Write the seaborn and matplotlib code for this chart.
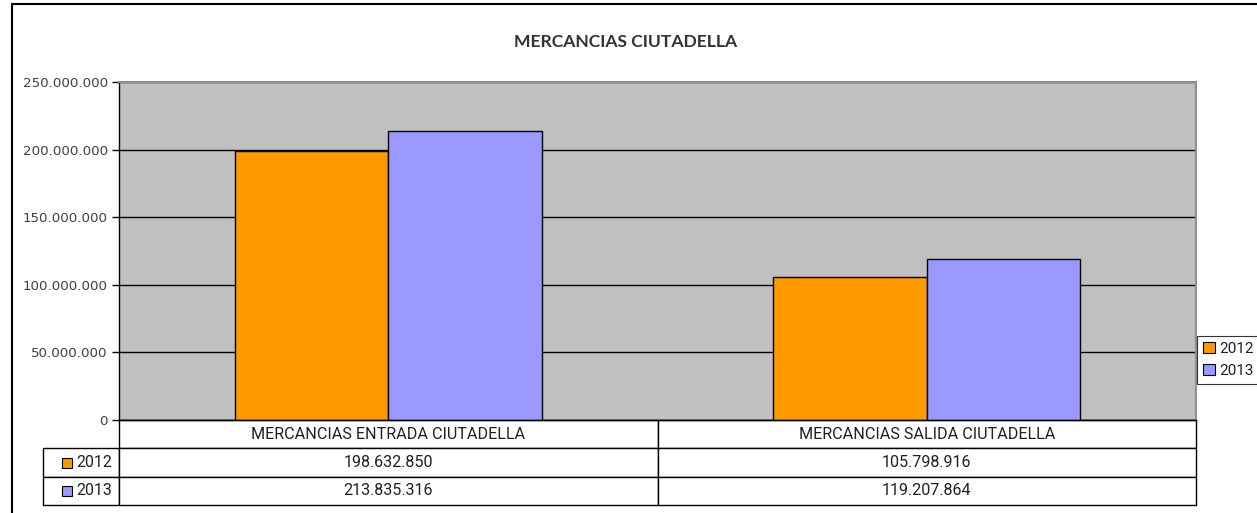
import pandas as pd
import matplotlib.pyplot as plt
import seaborn as sns
from matplotlib.ticker import FuncFormatter
from matplotlib.patches import Rectangle
from matplotlib.lines import Line2D

# Dati
categorie = ['MERCANCIAS ENTRADA CIUTADELLA', 'MERCANCIAS SALIDA CIUTADELLA']
anni = ['2012', '2013']
valori_2012 = [198632850, 105798916]
valori_2013 = [213835316, 119207864]
colori = ['#FF9900', '#9999FF']

df = pd.DataFrame({
    'categoria': categorie * 2,
    'anno': [anni[0]] * 2 + [anni[1]] * 2,
    'valore': valori_2012 + valori_2013,
})

def fmt_punti(v):
    return f"{int(round(v)):,}".replace(',', '.')

sns.set_style('white')
plt.rcParams['font.family'] = ['DejaVu Sans']

W, H = 1257, 513
fig = plt.figure(figsize=(W / 100, H / 100), dpi=100)
ax = fig.add_axes([119 / W, (H - 420) / H, 1077 / W, 338 / H])

sns.barplot(data=df, x='categoria', y='valore', hue='anno', palette=colori,
            saturation=1, width=0.57, edgecolor='black', linewidth=1, ax=ax,
            legend=False)

ax.set_facecolor('#C0C0C0')
ax.set_ylim(0, 250000000)
ax.set_xlim(-0.5, 1.5)
ax.set_yticks(range(0, 250000001, 50000000))
ax.yaxis.set_major_formatter(FuncFormatter(lambda v, p: fmt_punti(v)))
ax.set_xticks([])
ax.set_xlabel('')
ax.set_ylabel('')
ax.tick_params(axis='y', left=True, length=5, width=1, color='black',
               labelcolor='#404040', labelsize=9.6, pad=3, direction='out')
ax.yaxis.grid(True, color='black', linewidth=1)
ax.set_axisbelow(True)
for s in ['left', 'bottom']:
    ax.spines[s].set_color('black')
    ax.spines[s].set_linewidth(1)
for s in ['top', 'right']:
    ax.spines[s].set_color('#909090')
    ax.spines[s].set_linewidth(1.5)

# Tabella dati sotto il grafico
x0 = (43 - 119) / 1077
y0 = (420 - 505) / 338
tw = (1196 - 43) / 1077
th = -y0
celle = [['', fmt_punti(valori_2012[0]), fmt_punti(valori_2012[1])],
         ['', fmt_punti(valori_2013[0]), fmt_punti(valori_2013[1])]]
tab = ax.table(cellText=celle, colLabels=[''] + categorie,
               colWidths=[76, 538.5, 538.5], cellLoc='center',
               bbox=[x0, y0, tw, th])
tab.auto_set_font_size(False)
tab.set_fontsize(11.6)
for (r, c), cell in tab.get_celld().items():
    cell.set_linewidth(1)
    cell.set_edgecolor('black')
    cell.get_text().set_fontfamily('Roboto')
    cell.get_text().set_color('#202020')
    if r == 0 and c == 0:
        cell.visible_edges = ''

rh = th / 3
for i, anno in enumerate(anni):
    yc = y0 + th - rh * (i + 1.5)
    ax.add_patch(Rectangle(((62 - 119) / 1077, yc - 5 / 338), 10 / 1077, 10 / 338,
                           transform=ax.transAxes, clip_on=False,
                           facecolor=colori[i], edgecolor='black', linewidth=0.8))
    ax.text((76 - 119) / 1077, yc, anno, transform=ax.transAxes, ha='left',
            va='center', fontsize=11.4, family='Roboto', color='#202020')

# Legenda
maniglie = [Rectangle((0, 0), 1, 1, facecolor=colori[i], edgecolor='black', linewidth=0.8)
            for i in range(2)]
leg = fig.legend(maniglie, anni, loc='center left',
                 bbox_to_anchor=(1197 / W, (H - 360) / H), frameon=True,
                 fancybox=False, edgecolor='black', fontsize=11,
                 prop={'family': 'Roboto', 'size': 11},
                 handlelength=0.75, handleheight=0.75, handletextpad=0.3,
                 borderpad=0.4, labelspacing=0.55, borderaxespad=0)
leg.get_frame().set_linewidth(0.8)
for t in leg.get_texts():
    t.set_color('#202020')

# Titolo
fig.text(626 / W, 1 - 42 / H, 'MERCANCIAS CIUTADELLA', ha='center', va='center',
         fontsize=12.6, fontweight='bold', family='Lato', color='#333333')

# Cornice esterna
fig.add_artist(Line2D([12 / W, 1], [1 - 4 / H, 1 - 4 / H], color='black', linewidth=1.5))
fig.add_artist(Line2D([12 / W, 12 / W], [0, 1 - 4 / H], color='black', linewidth=1.5))

fig.savefig('out.png', dpi=100)
